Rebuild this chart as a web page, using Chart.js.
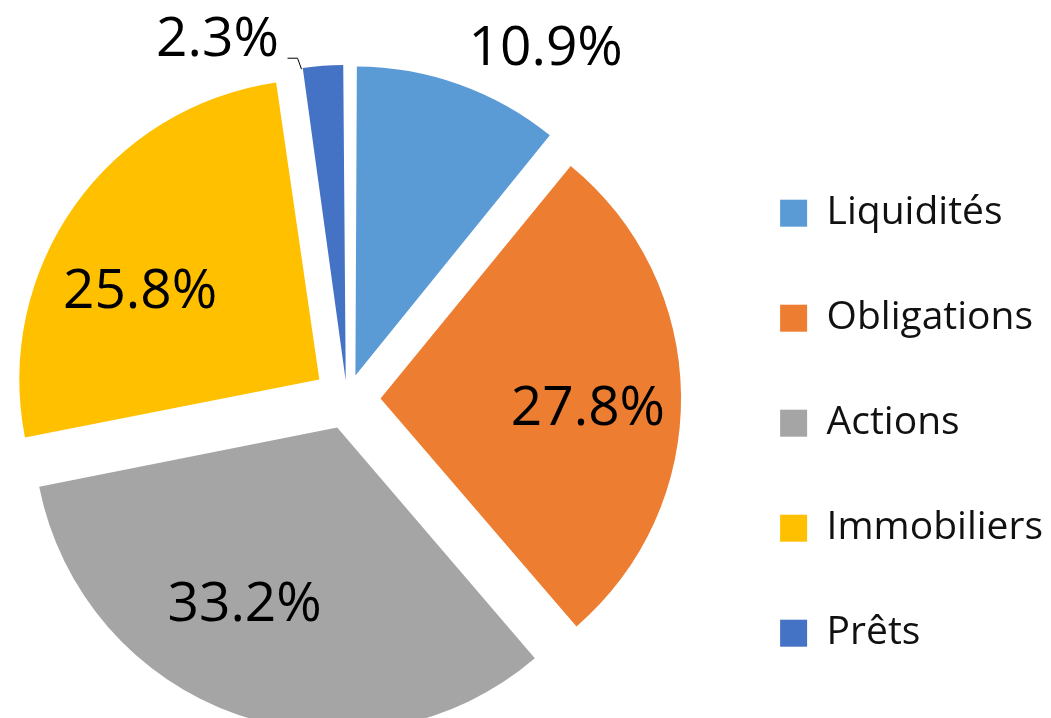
<!DOCTYPE html>
<html>
<head>
<meta charset="utf-8">
<script src="https://cdn.jsdelivr.net/npm/chart.js@4/dist/chart.umd.min.js"></script>
<style>
  html, body { margin: 0; padding: 0; background: #fff; }
  #wrap { width: 1051px; height: 718px; position: relative; overflow: hidden; }
  /* canvas is a bit larger than the page and pulled up/left so the pie lands where it should */
  #chart { position: absolute; left: -20px; top: -20px; }
</style>
</head>
<body>
<div id="wrap"><canvas id="chart" width="1073" height="838"></canvas></div>
<script>
var labels = ['Liquidités', 'Obligations', 'Actions', 'Immobiliers', 'Prêts'];
var values = [10.9, 27.8, 33.2, 25.8, 2.3];
var colors = ['#5B9BD5', '#ED7D31', '#A5A5A5', '#FFC000', '#4472C4'];

// where each percentage goes: fraction across the slice, distance (in radii) from the slice tip
var labelAngle = [0.77, 0.525, 0.576, 0.41, -1.55];
var labelDist = [1.24, 0.69, 0.645, 0.67, 1.176];

var shift = 34; // how far every slice is pulled out, px

// chart.js moves a slice by offset/4 * (2 - sin(circumference)), undo that so all move the same
var total = values.reduce(function(a, b){ return a + b; }, 0);
var offsets = values.map(function(v){
  var circ = v / total * 2 * Math.PI;
  return 4 * shift / (2 - Math.sin(Math.min(Math.PI, circ)));
});

var pctLabels = {
  id: 'pctLabels',
  afterDatasetsDraw: function(chart){
    var ctx = chart.ctx;
    var arcs = chart.getDatasetMeta(0).data;
    var size = 55;
    ctx.save();
    ctx.font = size + 'px "Open Sans"';
    ctx.fillStyle = '#000';
    ctx.textAlign = 'center';
    ctx.textBaseline = 'alphabetic';
    arcs.forEach(function(arc, i){
      var p = arc.getProps(['x', 'y', 'startAngle', 'endAngle', 'outerRadius'], true);
      var mid = (p.startAngle + p.endAngle) / 2;
      var ax = p.x + Math.cos(mid) * shift;
      var ay = p.y + Math.sin(mid) * shift;
      var a = p.startAngle + (p.endAngle - p.startAngle) * labelAngle[i];
      var r = p.outerRadius * labelDist[i];
      var cx = ax + Math.cos(a) * r;
      var cy = ay + Math.sin(a) * r;
      ctx.fillText(values[i].toFixed(1) + '%', cx, cy + size * 0.357);
      if (i === 4) {
        // leader line for the small slice
        var ex = ax + Math.cos(p.startAngle) * (p.outerRadius - 1);
        var ey = ay + Math.sin(p.startAngle) * (p.outerRadius - 1);
        ctx.beginPath();
        ctx.strokeStyle = '#000';
        ctx.lineWidth = 1;
        ctx.moveTo(ex, ey);
        ctx.lineTo(ex - 4, ey - 11);
        ctx.lineTo(ex - 14, ey - 11);
        ctx.stroke();
      }
    });
    ctx.restore();
  }
};

var chart = new Chart(document.getElementById('chart'), {
  type: 'pie',
  data: {
    labels: labels,
    datasets: [{
      data: values,
      backgroundColor: colors,
      borderWidth: 0,
      offset: offsets,
      radius: 300,
      clip: false
    }]
  },
  plugins: [pctLabels],
  options: {
    responsive: false,
    animation: false,
    layout: {
      padding: { left: 0, right: 0, top: 0, bottom: 0 }
    },
    plugins: {
      tooltip: { enabled: false },
      legend: {
        position: 'right',
        title: { display: true, text: '', padding: 17, font: { size: 12 } },
        labels: {
          boxWidth: 27,
          boxHeight: 27,
          padding: 66,
          color: '#111',
          font: { family: "'Open Sans'", size: 39 }
        }
      }
    }
  }
});
</script>
</body>
</html>
